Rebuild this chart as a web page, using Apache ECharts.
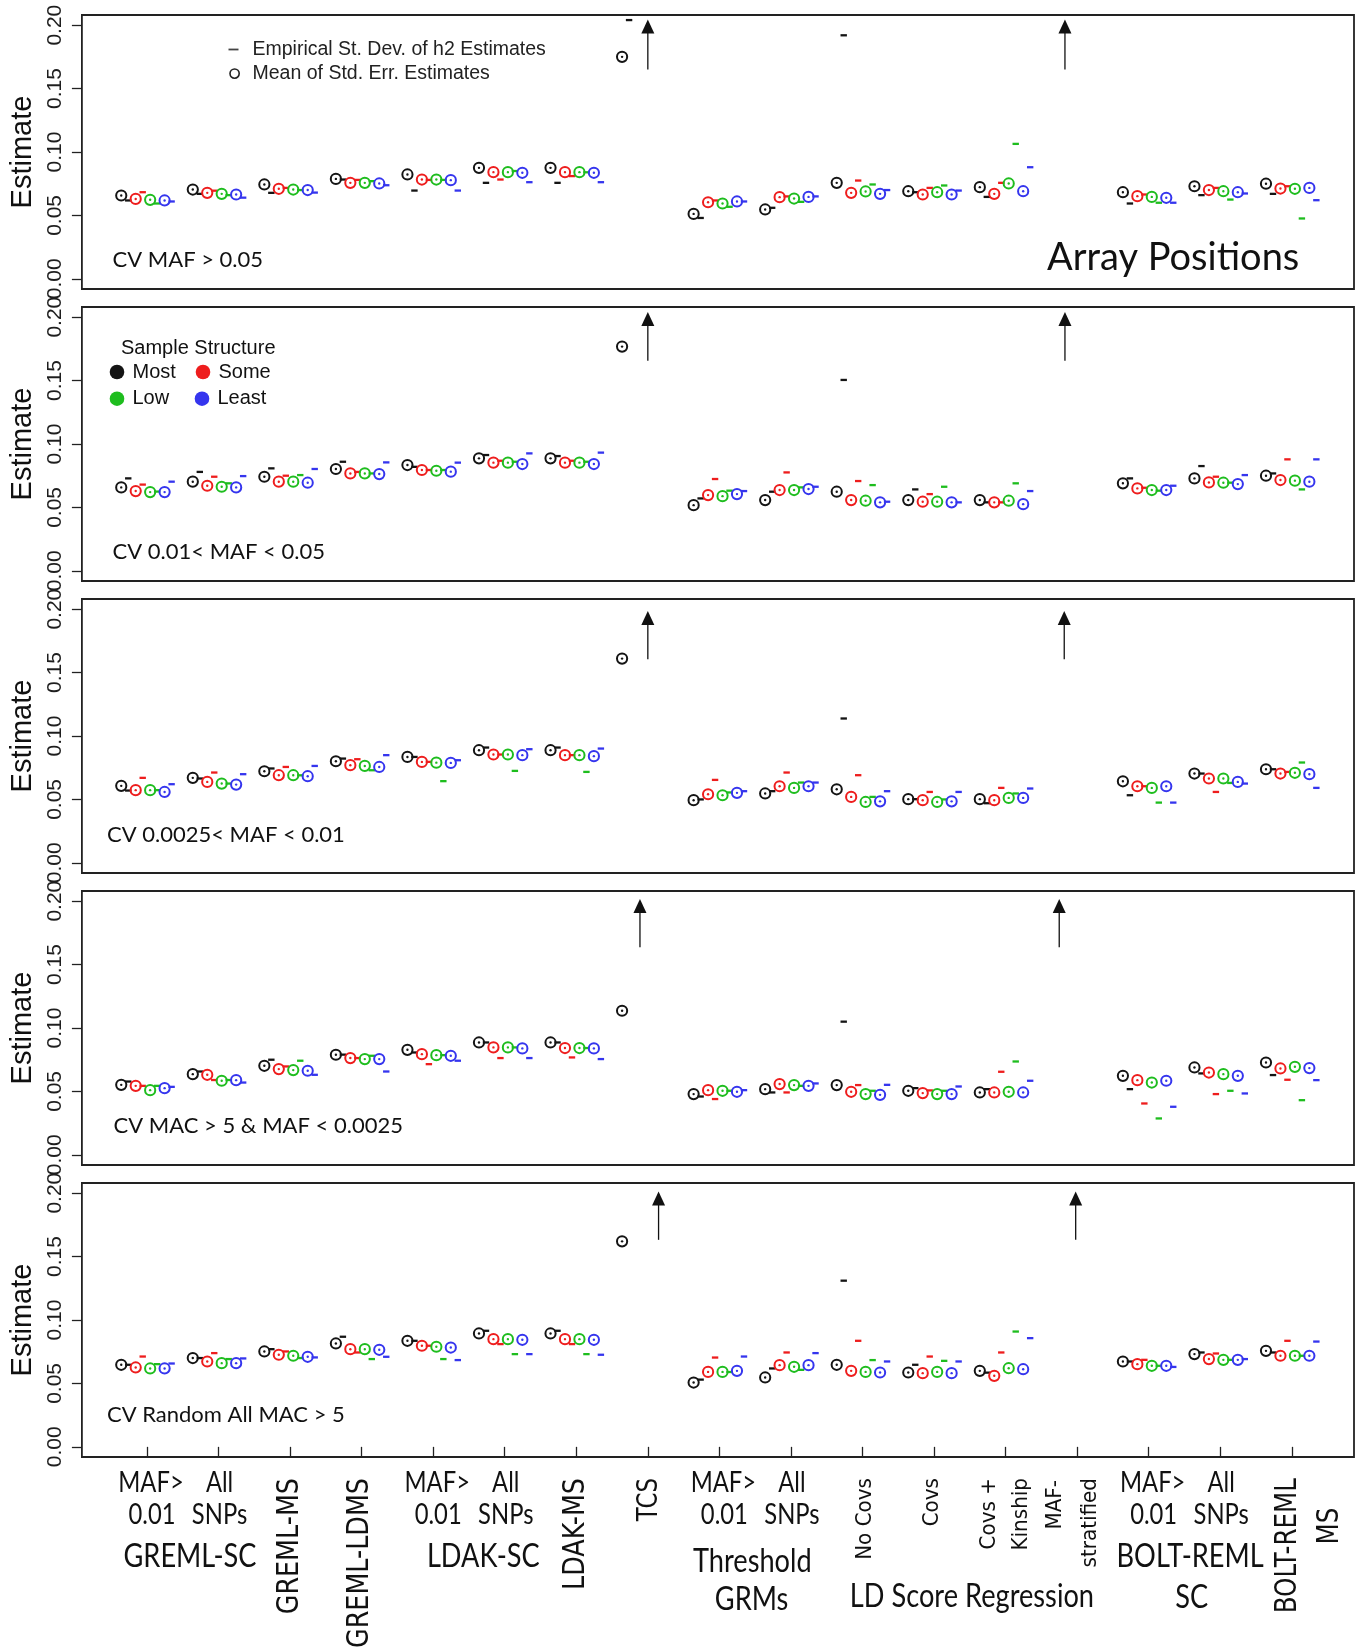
<!DOCTYPE html>
<html>
<head>
<meta charset="utf-8">
<script src="https://cdn.jsdelivr.net/npm/echarts@6/dist/echarts.min.js"></script>
<style>
  html, body { margin: 0; padding: 0; background: #fff; }
  #chart { width: 1356px; height: 1649px; }
</style>
</head>
<body>
<div id="chart"></div>
<script>
// Method slots along the x axis (slot i sits at x = i + 1)
const methods = [
  'GREML-SC MAF>0.01', 'GREML-SC All SNPs', 'GREML-MS', 'GREML-LDMS',
  'LDAK-SC MAF>0.01', 'LDAK-SC All SNPs', 'LDAK-MS', 'TCS',
  'Threshold GRMs MAF>0.01', 'Threshold GRMs All SNPs',
  'LDSC No Covs', 'LDSC Covs', 'LDSC Covs + Kinship', 'LDSC MAF-stratified',
  'BOLT-REML SC MAF>0.01', 'BOLT-REML SC All SNPs', 'BOLT-REML MS'
];
const structures = ['Most', 'Some', 'Low', 'Least'];
const panelTitles = [
  'CV MAF > 0.05', 'CV 0.01< MAF < 0.05', 'CV 0.0025< MAF < 0.01',
  'CV MAC > 5 & MAF < 0.0025', 'CV Random All MAC > 5'
];
const yTickValues = [0, 0.05, 0.10, 0.15, 0.20];

// Mean of std. err. estimates, one row per method: [Most, Some, Low, Least]
const seMafAbove05 = [
  [0.0657, 0.0630, 0.0623, 0.0618], [0.0704, 0.0678, 0.0670, 0.0665],
  [0.0744, 0.0710, 0.0704, 0.0700], [0.0788, 0.0757, 0.0757, 0.0752],
  [0.0823, 0.0783, 0.0783, 0.0778], [0.0875, 0.0841, 0.0841, 0.0836],
  [0.0875, 0.0841, 0.0841, 0.0836], [0.1750, null, null, null],
  [0.0512, 0.0604, 0.0594, 0.0610], [0.0547, 0.0644, 0.0633, 0.0646],
  [0.0757, 0.0678, 0.0689, 0.0670], [0.0691, 0.0665, 0.0683, 0.0665],
  [0.0723, 0.0670, 0.0752, 0.0691], [null, null, null, null],
  [0.0683, 0.0652, 0.0646, 0.0639], [0.0730, 0.0700, 0.0691, 0.0683],
  [0.0750, 0.0712, 0.0710, 0.0717]
];
// Empirical st. dev. of h2 estimates
const sdMafAbove05 = [
  [0.0618, 0.0683, 0.0594, 0.0610], [0.0670, 0.0695, 0.0660, 0.0640],
  [0.0678, 0.0717, 0.0700, 0.0680], [0.0783, 0.0780, 0.0770, 0.0738],
  [0.0696, 0.0780, 0.0780, 0.0696], [0.0757, 0.0783, 0.0850, 0.0762],
  [0.0757, 0.0810, 0.0840, 0.0762], [0.2040, null, null, null],
  [0.0480, 0.0618, 0.0568, 0.0610], [0.0560, 0.0650, 0.0607, 0.0650],
  [0.1920, 0.0775, 0.0744, 0.0700], [0.0683, 0.0717, 0.0736, 0.0696],
  [0.0646, 0.0757, 0.1064, 0.0880], [null, null, null, null],
  [0.0594, 0.0665, 0.0600, 0.0600], [0.0660, 0.0717, 0.0625, 0.0673],
  [0.0670, 0.0730, 0.0476, 0.0620]
];

const seMaf01to05 = [
  [0.0658, 0.0629, 0.0621, 0.0621], [0.0703, 0.0671, 0.0663, 0.0658],
  [0.0742, 0.0703, 0.0703, 0.0695], [0.0803, 0.0768, 0.0768, 0.0763],
  [0.0834, 0.0795, 0.0789, 0.0782], [0.0887, 0.0853, 0.0853, 0.0842],
  [0.0887, 0.0853, 0.0853, 0.0842], [0.1768, null, null, null],
  [0.0518, 0.0597, 0.0589, 0.0605], [0.0558, 0.0637, 0.0637, 0.0645],
  [0.0624, 0.0558, 0.0553, 0.0540], [0.0558, 0.0545, 0.0545, 0.0540],
  [0.0558, 0.0540, 0.0553, 0.0526], [null, null, null, null],
  [0.0690, 0.0650, 0.0637, 0.0637], [0.0729, 0.0697, 0.0695, 0.0684],
  [0.0750, 0.0716, 0.0711, 0.0703]
];
const sdMaf01to05 = [
  [0.0729, 0.0680, 0.0625, 0.0703], [0.0780, 0.0742, 0.0690, 0.0747],
  [0.0808, 0.0750, 0.0755, 0.0803], [0.0860, 0.0780, 0.0768, 0.0855],
  [0.0820, 0.0795, 0.0795, 0.0853], [0.0913, 0.0868, 0.0860, 0.0926],
  [0.0905, 0.0868, 0.0860, 0.0932], [null, null, null, null],
  [0.0571, 0.0724, 0.0632, 0.0629], [0.0624, 0.0776, 0.0658, 0.0663],
  [0.1505, 0.0708, 0.0676, 0.0545], [0.0642, 0.0605, 0.0663, 0.0540],
  [0.0540, 0.0540, 0.0690, 0.0629], [null, null, null, null],
  [0.0729, 0.0655, 0.0632, 0.0671], [0.0826, 0.0742, 0.0695, 0.0755],
  [0.0768, 0.0879, 0.0642, 0.0879]
];

const seMaf0025to01 = [
  [0.0607, 0.0573, 0.0573, 0.0559], [0.0670, 0.0638, 0.0625, 0.0617],
  [0.0722, 0.0691, 0.0691, 0.0683], [0.0801, 0.0770, 0.0764, 0.0756],
  [0.0835, 0.0796, 0.0790, 0.0788], [0.0888, 0.0854, 0.0854, 0.0849],
  [0.0888, 0.0849, 0.0849, 0.0841], [0.1610, null, null, null],
  [0.0494, 0.0541, 0.0533, 0.0552], [0.0547, 0.0604, 0.0591, 0.0604],
  [0.0580, 0.0520, 0.0480, 0.0485], [0.0502, 0.0494, 0.0480, 0.0485],
  [0.0502, 0.0494, 0.0512, 0.0512], [null, null, null, null],
  [0.0643, 0.0604, 0.0591, 0.0604], [0.0704, 0.0665, 0.0665, 0.0638],
  [0.0738, 0.0704, 0.0710, 0.0699]
];
const sdMaf0025to01 = [
  [0.0570, 0.0670, 0.0573, 0.0620], [0.0665, 0.0712, 0.0625, 0.0699],
  [0.0744, 0.0756, 0.0690, 0.0764], [0.0822, 0.0817, 0.0730, 0.0849],
  [0.0835, 0.0796, 0.0644, 0.0809], [0.0909, 0.0854, 0.0725, 0.0896],
  [0.0909, 0.0849, 0.0717, 0.0901], [null, null, null, null],
  [0.0500, 0.0654, 0.0555, 0.0565], [0.0565, 0.0712, 0.0633, 0.0633],
  [0.1138, 0.0691, 0.0520, 0.0565], [0.0502, 0.0559, 0.0500, 0.0559],
  [0.0470, 0.0591, 0.0547, 0.0586], [null, null, null, null],
  [0.0533, 0.0604, 0.0475, 0.0475], [0.0704, 0.0559, 0.0630, 0.0625],
  [0.0738, 0.0717, 0.0791, 0.0591]
];

const seMacRare = [
  [0.0552, 0.0544, 0.0510, 0.0526], [0.0636, 0.0631, 0.0584, 0.0589],
  [0.0702, 0.0676, 0.0668, 0.0663], [0.0789, 0.0763, 0.0755, 0.0755],
  [0.0828, 0.0794, 0.0786, 0.0781], [0.0886, 0.0847, 0.0847, 0.0839],
  [0.0886, 0.0842, 0.0842, 0.0839], [0.1136, null, null, null],
  [0.0479, 0.0510, 0.0505, 0.0497], [0.0518, 0.0558, 0.0550, 0.0544],
  [0.0550, 0.0497, 0.0479, 0.0473], [0.0505, 0.0487, 0.0479, 0.0479],
  [0.0492, 0.0492, 0.0497, 0.0492], [null, null, null, null],
  [0.0623, 0.0589, 0.0570, 0.0584], [0.0689, 0.0649, 0.0636, 0.0623],
  [0.0728, 0.0681, 0.0694, 0.0684]
];
const sdMacRare = [
  [0.0578, 0.0544, 0.0544, 0.0536], [0.0657, 0.0590, 0.0590, 0.0570],
  [0.0750, 0.0697, 0.0742, 0.0631], [0.0790, 0.0763, 0.0781, 0.0657],
  [0.0807, 0.0715, 0.0786, 0.0742], [0.0886, 0.0763, 0.0847, 0.0763],
  [0.0886, 0.0768, 0.0842, 0.0755], [null, null, null, null],
  [0.0460, 0.0440, 0.0505, 0.0510], [0.0492, 0.0492, 0.0544, 0.0563],
  [0.1050, 0.0550, 0.0505, 0.0552], [0.0526, 0.0508, 0.0505, 0.0539],
  [0.0518, 0.0655, 0.0736, 0.0584], [null, null, null, null],
  [0.0518, 0.0405, 0.0287, 0.0379], [0.0642, 0.0479, 0.0505, 0.0484],
  [0.0629, 0.0592, 0.0431, 0.0589]
];

const seRandomAll = [
  [0.0647, 0.0626, 0.0618, 0.0618], [0.0700, 0.0673, 0.0660, 0.0660],
  [0.0752, 0.0726, 0.0718, 0.0710], [0.0815, 0.0770, 0.0770, 0.0765],
  [0.0836, 0.0797, 0.0789, 0.0783], [0.0894, 0.0849, 0.0849, 0.0844],
  [0.0894, 0.0849, 0.0849, 0.0844], [0.1620, null, null, null],
  [0.0507, 0.0591, 0.0591, 0.0599], [0.0547, 0.0644, 0.0631, 0.0644],
  [0.0647, 0.0599, 0.0591, 0.0586], [0.0586, 0.0581, 0.0591, 0.0581],
  [0.0599, 0.0560, 0.0620, 0.0612], [null, null, null, null],
  [0.0673, 0.0652, 0.0639, 0.0639], [0.0731, 0.0692, 0.0686, 0.0686],
  [0.0757, 0.0718, 0.0718, 0.0718]
];
const sdRandomAll = [
  [0.0647, 0.0712, 0.0652, 0.0657], [0.0700, 0.0739, 0.0692, 0.0697],
  [0.0770, 0.0752, 0.0700, 0.0705], [0.0868, 0.0744, 0.0692, 0.0710],
  [0.0836, 0.0797, 0.0692, 0.0684], [0.0915, 0.0810, 0.0731, 0.0731],
  [0.0915, 0.0810, 0.0731, 0.0726], [null, null, null, null],
  [0.0530, 0.0704, 0.0590, 0.0712], [0.0618, 0.0744, 0.0607, 0.0739],
  [0.1310, 0.0836, 0.0684, 0.0673], [0.0647, 0.0712, 0.0678, 0.0673],
  [0.0585, 0.0744, 0.0909, 0.0857], [null, null, null, null],
  [0.0673, 0.0686, 0.0639, 0.0630], [0.0744, 0.0736, 0.0686, 0.0692],
  [0.0744, 0.0836, 0.0718, 0.0830]
];

// Off-scale indicators: [x, tail value, tip value]
const offScaleMafAbove05 = [[8.00, 0.1650, 0.2045], [13.83, 0.1650, 0.2045]];
const offScaleMaf01to05 = [[8.00, 0.1656, 0.2040], [13.83, 0.1656, 0.2040]];
const offScaleMaf0025to01 = [[8.00, 0.1606, 0.1985], [13.82, 0.1606, 0.1985]];
const offScaleMacRare = [[7.89, 0.1636, 0.2017], [13.75, 0.1636, 0.2017]];
const offScaleRandomAll = [[8.15, 0.1632, 0.2013], [13.98, 0.1632, 0.2013]];

const panelSe = [seMafAbove05, seMaf01to05, seMaf0025to01, seMacRare, seRandomAll];
const panelSd = [sdMafAbove05, sdMaf01to05, sdMaf0025to01, sdMacRare, sdRandomAll];
const panelArrows = [offScaleMafAbove05, offScaleMaf01to05, offScaleMaf0025to01, offScaleMacRare, offScaleRandomAll];

// ---- layout & style ----
const structureColors = ['#141414', '#ee1d1d', '#1ebd1e', '#3535ee'];
const slotOffsets = [-0.36, -0.158, 0.044, 0.246];
const gridTops = [15, 307, 599, 891, 1183];
const gridHeight = 274;
const xRange = [0.09, 17.87];
const yRange = [-0.008, 0.208];
const tickSlots = methods.map((_, i) => i + 1);

function markPoints(rows) {
  const out = [];
  rows.forEach((row, m) => row.forEach((v, k) => {
    if (v != null) out.push([m + 1 + slotOffsets[k], v, k]);
  }));
  return out;
}

function renderCircle(params, api) {
  const c = api.coord([api.value(0), api.value(1)]);
  const col = structureColors[api.value(2)];
  return {
    type: 'group',
    children: [
      { type: 'circle', shape: { cx: c[0], cy: c[1], r: 5.1 },
        style: { fill: 'none', stroke: col, lineWidth: 2 } },
      { type: 'circle', shape: { cx: c[0], cy: c[1], r: 1.2 },
        style: { fill: col } }
    ]
  };
}

function renderDash(params, api) {
  const c = api.coord([api.value(0), api.value(1)]);
  const col = structureColors[api.value(2)];
  return { type: 'rect', shape: { x: c[0] + 3.8, y: c[1] - 1.15, width: 6.4, height: 2.3 },
    style: { fill: col } };
}

function renderArrow(params, api) {
  const tail = api.coord([api.value(0), api.value(1)]);
  const tip = api.coord([api.value(0), api.value(2)]);
  return {
    type: 'group',
    children: [
      { type: 'line', shape: { x1: tail[0], y1: tail[1], x2: tip[0], y2: tip[1] + 12 },
        style: { stroke: '#111', lineWidth: 1.3 } },
      { type: 'polygon', shape: { points: [[tip[0], tip[1]], [tip[0] - 6.5, tip[1] + 14], [tip[0] + 6.5, tip[1] + 14]] },
        style: { fill: '#111' } }
    ]
  };
}

const grids = [], xAxes = [], yAxes = [], series = [];
for (let p = 0; p < 5; p++) {
  grids.push({ left: 80, right: 2, top: gridTops[p], height: gridHeight,
    show: true, borderColor: '#222', borderWidth: 1.8, backgroundColor: 'transparent' });
  xAxes.push({
    gridIndex: p, type: 'value', min: xRange[0], max: xRange[1],
    axisLine: { show: false }, splitLine: { show: false },
    axisLabel: { show: false },
    axisTick: { show: p === 4, customValues: tickSlots, length: 11, lineStyle: { color: '#222', width: 1.3 } }
  });
  yAxes.push({
    gridIndex: p, type: 'value', min: yRange[0], max: yRange[1],
    axisLine: { show: false }, splitLine: { show: false },
    axisTick: { show: true, customValues: yTickValues, length: 10, lineStyle: { color: '#222', width: 1.3 } },
    axisLabel: { customValues: yTickValues, rotate: 90, margin: 16,
      formatter: v => v.toFixed(2),
      fontFamily: 'Liberation Sans', fontSize: 21, color: '#1e1e1e' },
    name: 'Estimate', nameLocation: 'middle', nameRotate: 90, nameGap: 42,
    nameTextStyle: { fontFamily: 'Liberation Sans', fontSize: 29, color: '#111' }
  });
  series.push({
    type: 'custom', name: 'sd-' + p, xAxisIndex: p, yAxisIndex: p, clip: false,
    data: markPoints(panelSd[p]), encode: { x: 0, y: 1 }, renderItem: renderDash, z: 2
  });
  series.push({
    type: 'custom', name: 'se-' + p, xAxisIndex: p, yAxisIndex: p, clip: false,
    data: markPoints(panelSe[p]), encode: { x: 0, y: 1 }, renderItem: renderCircle, z: 3
  });
  series.push({
    type: 'custom', name: 'arrow-' + p, xAxisIndex: p, yAxisIndex: p, clip: false,
    data: panelArrows[p], encode: { x: 0, y: [1, 2] }, renderItem: renderArrow, z: 4
  });
}

const chart = echarts.init(document.getElementById('chart'), null, { renderer: 'canvas' });
chart.setOption({
  animation: false,
  backgroundColor: '#fff',
  grid: grids, xAxis: xAxes, yAxis: yAxes, series: series
});

// ---- text annotations ----
const slotX = v => chart.convertToPixel({ xAxisIndex: 4 }, v);
const g = [];
const narrow = (text, x, y, size) => g.push({
  type: 'text', x: x, y: y, scaleX: 0.85,
  style: { text: text, fill: '#111', font: size + 'px Lato', align: 'center', verticalAlign: 'middle' }
});
// vertical labels read bottom-to-top; squeeze is applied along the reading direction
const upright = (text, x, y, size, squeeze, align) => g.push({
  type: 'text', x: x, y: y, rotation: Math.PI / 2, scaleX: squeeze,
  style: { text: text, fill: '#111', font: size + 'px "DejaVu Sans"', align: align || 'right', verticalAlign: 'middle' }
});

[1, 5, 9, 15].forEach(s => {
  narrow('MAF>', slotX(s) + 4, 1483, 28);
  narrow('0.01', slotX(s) + 5, 1515, 28);
  narrow('All', slotX(s + 1) + 1, 1483, 28);
  narrow('SNPs', slotX(s + 1) + 1, 1515, 28);
});
narrow('GREML-SC', slotX(1.6), 1557, 32);
narrow('LDAK-SC', slotX(5.7), 1557, 32);
narrow('Threshold', slotX(9.46), 1562, 32);
narrow('GRMs', slotX(9.45), 1600, 32);
narrow('LD Score Regression', slotX(12.53), 1597, 32);
narrow('BOLT-REML', slotX(15.58), 1557, 32);
narrow('SC', slotX(15.6), 1598, 32);

upright('GREML-MS', slotX(3), 1478, 31, 0.82);
upright('GREML-LDMS', slotX(4) - 2, 1478, 31, 0.82);
upright('LDAK-MS', slotX(7), 1478, 31, 0.82);
upright('TCS', slotX(8) + 2, 1478, 28, 0.82);
upright('No Covs', slotX(11) + 3, 1478, 21, 0.95);
upright('Covs', slotX(12) - 1, 1478, 21, 0.95);
upright('Covs +', slotX(13) - 16, 1478, 21, 0.95);
upright('Kinship', slotX(13) + 16, 1478, 21, 0.95);
upright('MAF-', slotX(14) - 22, 1480, 21, 0.95);
upright('stratified', slotX(14) + 13, 1478, 21, 0.95);
upright('BOLT-REML', slotX(17) - 4, 1478, 30, 0.82);
upright('MS', slotX(17) + 38, 1526, 30, 0.82, 'center');

// panel captions
const captionX = [112.6, 112.6, 107, 113.6, 107];
const captionDy = [245, 245, 236, 235, 232];
panelTitles.forEach((t, p) => g.push({
  type: 'text', x: captionX[p], y: gridTops[p] + captionDy[p],
  style: { text: t, fill: '#111', font: '22px Lato', align: 'left', verticalAlign: 'middle' }
}));
g.push({ type: 'text', x: 1047, y: 258,
  style: { text: 'Array Positions', fill: '#111', font: '38px Lato', align: 'left', verticalAlign: 'middle' } });

// marker key (top panel)
g.push({ type: 'rect', shape: { x: 228.5, y: 48.6, width: 10, height: 1.8 }, style: { fill: '#444' } });
g.push({ type: 'circle', shape: { cx: 234.6, cy: 73.6, r: 4.6 }, style: { fill: 'none', stroke: '#222', lineWidth: 1.6 } });
g.push({ type: 'text', x: 252.5, y: 49.5,
  style: { text: 'Empirical St. Dev. of h2 Estimates', fill: '#222', font: '19.5px "Liberation Sans"', align: 'left', verticalAlign: 'middle' } });
g.push({ type: 'text', x: 252.5, y: 73.6,
  style: { text: 'Mean of Std. Err. Estimates', fill: '#222', font: '19.5px "Liberation Sans"', align: 'left', verticalAlign: 'middle' } });

// sample structure key (second panel)
g.push({ type: 'text', x: 121, y: 348,
  style: { text: 'Sample Structure', fill: '#111', font: '20px "Liberation Sans"', align: 'left', verticalAlign: 'middle' } });
const keyPos = [[117, 372], [203, 372], [117, 398.7], [202, 398.7]];
structures.forEach((s, k) => {
  g.push({ type: 'circle', shape: { cx: keyPos[k][0], cy: keyPos[k][1], r: 7.3 }, style: { fill: structureColors[k] } });
  g.push({ type: 'text', x: keyPos[k][0] + 15.5, y: keyPos[k][1],
    style: { text: s, fill: '#111', font: '20px "Liberation Sans"', align: 'left', verticalAlign: 'middle' } });
});

chart.setOption({ graphic: g });
</script>
</body>
</html>
